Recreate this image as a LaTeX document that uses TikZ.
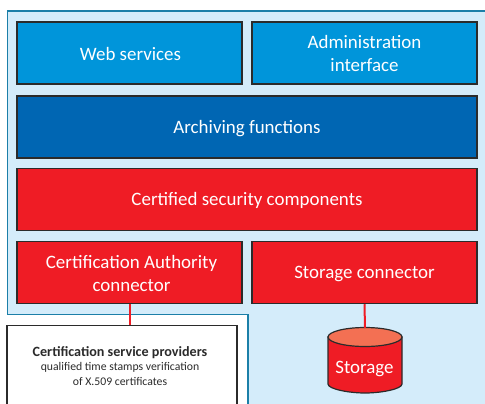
\documentclass[tikz,border=0pt]{standalone}
\usepackage{fontspec}
\setmainfont{Carlito}
\definecolor{panelfill}{HTML}{D4ECFA}
\definecolor{panelline}{HTML}{1B7FA8}
\definecolor{lightblue}{HTML}{0095DA}
\definecolor{darkblue}{HTML}{0066B3}
\definecolor{redfill}{HTML}{EF1C25}
\definecolor{redtop}{HTML}{F37053}
\definecolor{boxline}{HTML}{2B2B2B}
\tikzset{
  x=0.75pt,y=-0.75pt,
  comp/.style={draw=boxline,line width=1.1pt,inner sep=0pt},
  txt/.style={text=white,align=center,font=\fontsize{14.2}{17.2}\selectfont,inner sep=0pt,yshift=-0.9pt},
  wide/.style={comp,minimum width=345pt,minimum height=46.5pt},
  half/.style={comp,minimum width=168.75pt,minimum height=46.5pt},
  wire/.style={draw=redfill,line width=1.5pt},
}
\begin{document}
\begin{tikzpicture}
\useasboundingbox (0,0) rectangle (485,403);
\clip (0,0) rectangle (485,403);
\fill[white] (0,0) rectangle (485,403);
\filldraw[fill=panelfill,draw=panelline,line width=0.9pt]
  (490,11) -- (7.5,11) -- (7.5,314.5) -- (248,314.5) -- (248,410) -- (490,410) -- cycle;
\node[half,fill=lightblue,label={[txt,xshift=0.75pt]center:Web services}] (web) at (129.5,53) {};
\node[half,fill=lightblue,label={[txt,yshift=0.75pt]center:Administration\\interface}] (admin) at (364.5,53) {};
\node[wide,fill=darkblue,label={[txt]center:Archiving functions}] (arch) at (247,127) {};
\node[wide,fill=redfill,label={[txt]center:Certified security components}] (cert) at (247,199.5) {};
\node[half,fill=redfill,label={[txt,xshift=1.5pt]center:Certification Authority\\connector}] (ca) at (129.5,272.5) {};
\node[half,fill=redfill,label={[txt]center:Storage connector}] (sc) at (364.5,272.5) {};
\node[draw=boxline,line width=1.1pt,fill=white,minimum width=172.5pt,minimum height=67.5pt,anchor=north,inner sep=0pt] (csp) at (122,325) {};
\node[anchor=north,align=center,text=boxline,inner sep=0pt,font=\fontsize{8.8}{10.7}\selectfont] (csptext) at (120,346.5)
  {{\fontsize{10.6}{10.7}\selectfont\bfseries Certification service providers}\\qualified time stamps verification\\of X.509 certificates};
\coordinate (sttop) at (365,328);
\filldraw[fill=redfill,draw=boxline,line width=0.9pt]
  (328,337) -- (328,384) .. controls (328,389) and (348.6,393) .. (365,393)
  .. controls (381.4,393) and (402,389) .. (402,384) -- (402,337) -- cycle;
\filldraw[fill=redtop,draw=boxline,line width=0.9pt]
  (328,337) .. controls (328,331.8) and (344.6,327.5) .. (365,327.5)
  .. controls (385.4,327.5) and (402,331.8) .. (402,337)
  .. controls (402,342.2) and (385.4,346.5) .. (365,346.5)
  .. controls (344.6,346.5) and (328,342.2) .. (328,337) -- cycle;
\node[txt] (stl) at (364.5,368) {Storage};
\draw[wire] (ca.south) -- (ca.south |- csp.north);
\draw[wire] (sc.south) -- (sttop);
\end{tikzpicture}
\end{document}
